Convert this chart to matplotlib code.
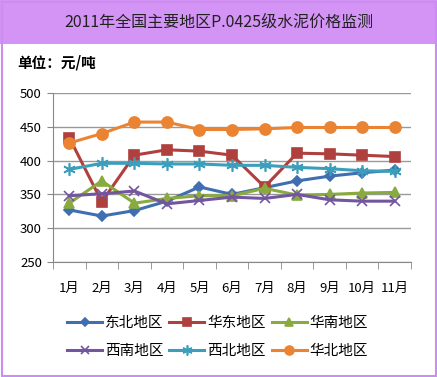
import numpy as np
import matplotlib.pyplot as plt
from matplotlib.patches import Rectangle

plt.rcParams['font.family'] = ['Noto Sans CJK SC', 'DejaVu Sans']

months = ['1月', '2月', '3月', '4月', '5月', '6月', '7月', '8月', '9月', '10月', '11月']

dongbei = [327, 318, 326, 340, 361, 350, 360, 370, 377, 382, 386]
huadong = [434, 339, 408, 416, 414, 408, 361, 411, 410, 408, 406]
huanan = [337, 370, 337, 344, 348, 348, 359, 349, 350, 352, 353]
xinan = [348, 351, 355, 336, 341, 346, 344, 350, 342, 340, 340]
xibei = [387, 396, 396, 395, 395, 393, 393, 390, 388, 385, 384]
huabei = [426, 440, 457, 457, 446, 446, 447, 449, 449, 449, 449]

series = [
    ('东北地区', dongbei, '#3F6FB0', 'D', 5.5),
    ('华东地区', huadong, '#B0403D', 's', 7),
    ('华南地区', huanan, '#88AA3E', '^', 7.5),
    ('西南地区', xinan, '#7455A0', 'x', 7),
    ('西北地区', xibei, '#3B9FBC', (6, 2, 0), 9),
    ('华北地区', huabei, '#EA8433', 'o', 8),
]

W, H = 437, 377
fig = plt.figure(figsize=(W / 100, H / 100), dpi=100)

# title band + frame
fig.patches.append(Rectangle((0, 1 - 44 / H), 1, 44 / H, transform=fig.transFigure,
                             facecolor='#D394F6', edgecolor='none', zorder=0))
fig.patches.append(Rectangle((1.5 / W, 1.5 / H), 1 - 3 / W, 1 - 3 / H, transform=fig.transFigure,
                             facecolor='none', edgecolor='#CC8CF0', lw=1.5, zorder=5))
fig.text(0.5, 1 - 22 / H, '2011年全国主要地区P.0425级水泥价格监测', ha='center', va='center',
         fontsize=11.5, color='#222222')
fig.text(17 / W, 1 - 62 / H, '单位：元/吨', ha='left', va='center', fontsize=10.5,
         fontweight='bold')

ax = fig.add_axes([53 / W, 1 - 262 / H, (411 - 53) / W, (262 - 93) / H])
x = np.arange(1, len(months) + 1)
handles = []
for name, vals, c, m, ms in series:
    h, = ax.plot(x, vals, color=c, lw=2.2, marker=m, ms=ms, mew=1.2, mfc=c, mec=c, label=name)
    handles.append(h)

ax.set_xlim(0.5, len(months) + 0.5)
ax.set_ylim(250, 500)
ax.set_yticks(range(250, 501, 50))
ax.set_xticks(x)
ax.set_xticklabels(months)
ax.set_xticks(np.arange(0.5, len(months) + 1), minor=True)
ax.tick_params(axis='x', which='major', length=0, pad=14, labelsize=9.5)
ax.tick_params(axis='x', which='minor', length=5, color='#888888', direction='out')
ax.tick_params(axis='y', length=4, color='#888888', labelsize=9.5, pad=4)
ax.grid(axis='y', color='#999999', lw=1)
ax.set_axisbelow(True)
for s in ['top', 'right']:
    ax.spines[s].set_visible(False)
for s in ['left', 'bottom']:
    ax.spines[s].set_color('#888888')

# legend filled row by row like the original
order = [0, 3, 1, 4, 2, 5]
ax.legend([handles[i] for i in order], [series[i][0] for i in order],
          loc='upper center', bbox_to_anchor=(0.46, -0.24), ncol=3, frameon=False,
          fontsize=10.5, handlelength=2.4, handletextpad=0.2, columnspacing=0.4,
          labelspacing=1.0, markerscale=0.8)

fig.savefig('out.png', dpi=100)
